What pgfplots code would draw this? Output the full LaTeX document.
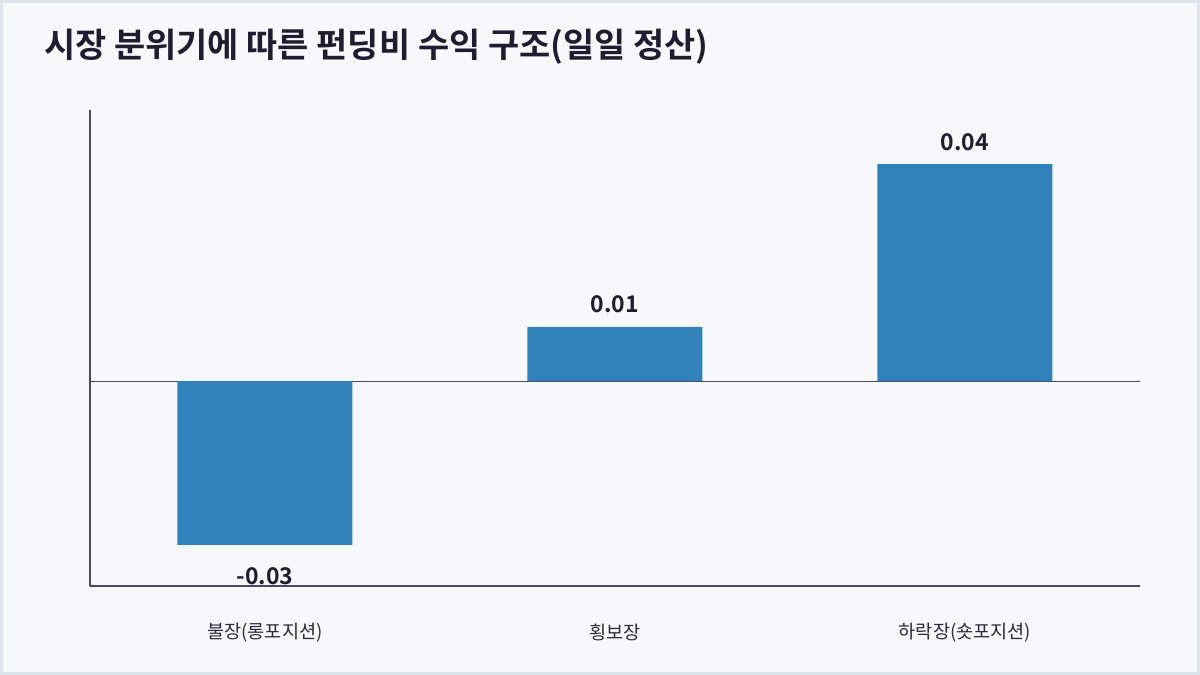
\documentclass[border=0pt]{standalone}
\usepackage{fontspec}
\setmainfont{Noto Sans CJK KR}[BoldFont={Noto Sans CJK KR Bold}]
\usepackage{pgfplots}
\pgfplotsset{compat=1.18}
\definecolor{bgc}{HTML}{F7F8FC}
\definecolor{brd}{HTML}{DDE3EC}
\definecolor{barc}{HTML}{3182BA}
\definecolor{axc}{HTML}{4A4868}
\definecolor{txt}{HTML}{1E1E30}
\definecolor{lab}{HTML}{2A2A3E}
\begin{document}
\begin{tikzpicture}[x=1pt,y=1pt]
\fill[bgc] (0,0) rectangle (1200,675);
\draw[brd, line width=3pt] (1.5,1.5) rectangle (1198.5,673.5);
\node[anchor=base west, inner sep=0pt, font=\fontsize{33.9}{40}\selectfont\bfseries, text=txt] at (44,617) {시장 분위기에 따른 펀딩비 수익 구조(일일 정산)};
\begin{axis}[
  at={(90pt,89pt)}, anchor=south west,
  scale only axis, width=1050pt, height=476pt,
  xmin=-0.5, xmax=2.5, ymin=-0.0378, ymax=0.05,
  axis lines=left,
  axis line style={-, axc, line width=1.8pt},
  ytick=\empty,
  xtick={0,1,2},
  xticklabels={불장(롱포지션),횡보장,하락장(숏포지션)},
  major tick length=0pt,
  xticklabel style={font=\fontsize{18.6}{22}\selectfont, text=lab, yshift=-34pt},
  extra y ticks={0},
  extra y tick labels={},
  extra y tick style={grid=major, major grid style={axc, line width=1pt}},
  ybar, bar width=175pt, bar shift=0pt,
  point meta=y,
  visualization depends on={y \as \yv},
  nodes near coords,
  nodes near coords style={font=\fontsize{23}{27}\selectfont\bfseries, text=txt, /pgf/number format/fixed, /pgf/number format/precision=2, /pgf/number format/assume math mode=true, yshift={ifthenelse(\yv<0,-19,10)}},
  clip=false,
]
\addplot[fill=barc, draw=none] coordinates {(0,-0.0302) (1,0.0100) (2,0.0400)};
\end{axis}
\end{tikzpicture}
\end{document}
